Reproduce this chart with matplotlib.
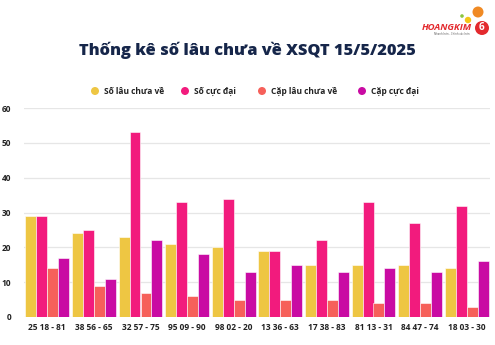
import numpy as np
import matplotlib.pyplot as plt
from matplotlib.patches import Ellipse

plt.rcParams['font.family'] = ['Open Sans', 'DejaVu Sans']

# Dữ liệu thống kê
labels = ["25 18 - 81", "38 56 - 65", "32 57 - 75", "95 09 - 90", "98 02 - 20",
          "13 36 - 63", "17 38 - 83", "81 13 - 31", "84 47 - 74", "18 03 - 30"]
so_lau = [29, 24, 23, 21, 20, 19, 15, 15, 15, 14]
so_cuc_dai = [29, 25, 53, 33, 34, 19, 22, 33, 27, 32]
cap_lau = [14, 9, 7, 6, 5, 5, 5, 4, 4, 3]
cap_cuc_dai = [17, 11, 22, 18, 13, 15, 13, 14, 13, 16]

series = [
    ("Số lâu chưa về", so_lau, '#EEC643'),
    ("Số cực đại", so_cuc_dai, '#F21B7D'),
    ("Cặp lâu chưa về", cap_lau, '#F6605A'),
    ("Cặp cực đại", cap_cuc_dai, '#C90BA3'),
]

W, H = 495, 345
fig = plt.figure(figsize=(W / 100, H / 100), dpi=100)
ax = fig.add_axes([24 / W, 1 - 317 / H, 466 / W, 209 / H])


def dot(px, py, r, col):
    # vòng tròn tính theo pixel trên hình
    fig.patches.append(Ellipse((px / W, 1 - py / H), 2 * r / W, 2 * r / H,
                               transform=fig.transFigure, facecolor=col, edgecolor='none'))


x = np.arange(len(labels))
w = 0.235
for k, (name, vals, col) in enumerate(series):
    ax.bar(x + (k - 1.5) * w, vals, width=w, color=col, edgecolor='white',
           linewidth=0.4, zorder=3, label=name)

ax.set_xlim(-0.5, len(labels) - 0.5)
ax.set_ylim(0, 60)
ax.set_yticks(range(0, 61, 10))
ax.set_xticks(x)
ax.set_xticklabels(labels, fontsize=6, fontweight='bold', color='#222222')
ax.tick_params(axis='y', labelsize=6, length=0, pad=9, labelcolor='#222222')
for t in ax.get_yticklabels():
    t.set_fontweight('bold')
ax.tick_params(axis='x', length=0, pad=4)
ax.grid(axis='y', color='#E6E6E6', linewidth=0.9, zorder=0)
for s in ax.spines.values():
    s.set_visible(False)

# Tiêu đề
fig.text(0.5, 1 - 50 / H, "Thống kê số lâu chưa về XSQT 15/5/2025",
         ha='center', va='center', fontsize=11.8, fontweight='heavy', color='#16264A')

# Chú thích
leg_x = [95, 185, 262, 362]
for (name, vals, col), lx in zip(series, leg_x):
    dot(lx, 91, 4, col)
    fig.text((lx + 9) / W, 1 - 91 / H, name, ha='left', va='center',
             fontsize=6, fontweight='bold', color='#222222')

# Logo
dot(478, 12, 5.5, '#F08A24')
dot(468, 20, 3.2, '#F5C518')
dot(462, 16, 1.8, '#8CC63F')
dot(482, 28, 7, '#E32A2E')
fig.text(472 / W, 1 - 27 / H, "HOANGKIM", ha='right', va='center', fontsize=6.8,
         fontweight='bold', style='italic', color='#E32A2E')
fig.text(470 / W, 1 - 34 / H, "Nhanh hơn - Chính xác hơn", ha='right', va='center',
         fontsize=2, color='#555555')
fig.text(481 / W, 1 - 28 / H, "6", ha='center', va='center', fontsize=7,
         fontweight='bold', color='white')

fig.savefig("out.png", dpi=100)
